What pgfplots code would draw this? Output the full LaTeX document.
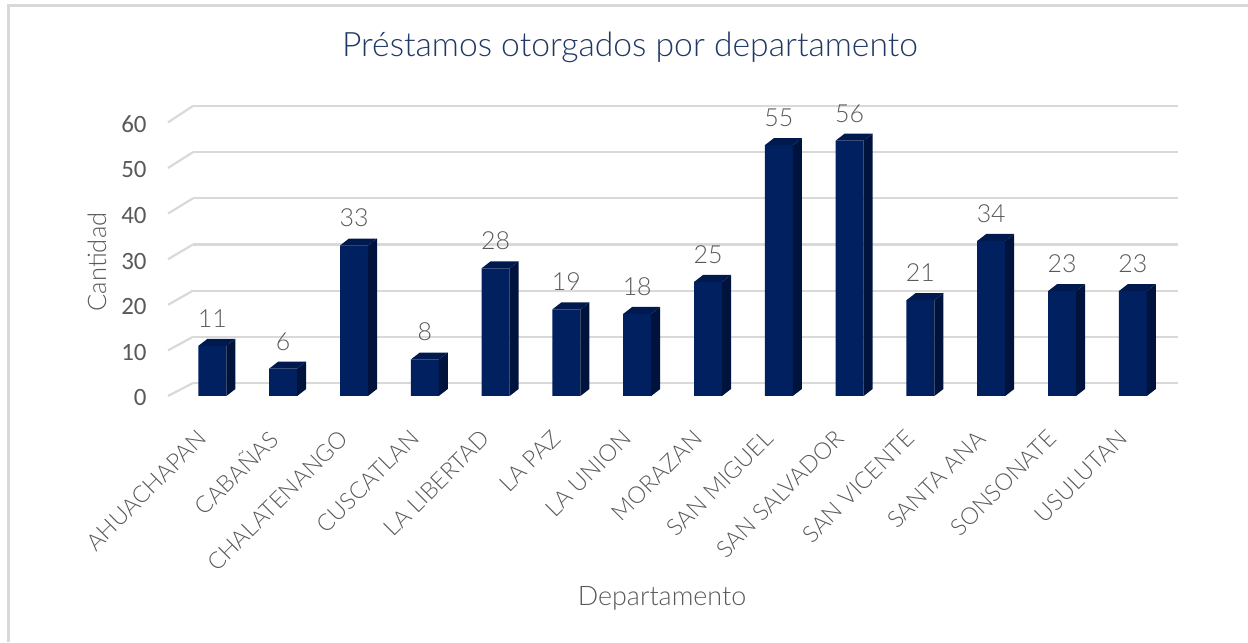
\documentclass[border=0pt]{standalone}
\usepackage{pgfplots}
\pgfplotsset{compat=1.18}
\usepackage{pgfplotstable}
\usepackage{fontspec}
\setmainfont{Carlito}
\newfontfamily\lightfont{Lato Light}

\definecolor{barfront}{HTML}{002060}
\definecolor{barside}{HTML}{00133D}
\definecolor{bartop}{HTML}{001A4F}
\definecolor{gridgray}{HTML}{D9D9D9}
\definecolor{labelgray}{HTML}{595959}
\definecolor{titleblue}{HTML}{203864}

% side and top faces of a column, drawn at the top-centre of its front face
\pgfdeclareplotmark{bar3d}{%
  \pgfmathsetlengthmacro\hh{\ry*2.28bp}%
  \pgfsetfillcolor{barside}%
  \pgfpathmoveto{\pgfpoint{7bp}{0pt}}%
  \pgfpathlineto{\pgfpoint{11.5bp}{3.5bp}}%
  \pgfpathlineto{\pgfpoint{11.5bp}{3.5bp-\hh}}%
  \pgfpathlineto{\pgfpoint{7bp}{-\hh}}%
  \pgfpathclose
  \pgfusepath{fill}%
  \pgfsetfillcolor{bartop}%
  \pgfpathmoveto{\pgfpoint{-7bp}{0pt}}%
  \pgfpathlineto{\pgfpoint{-2.5bp}{3.5bp}}%
  \pgfpathlineto{\pgfpoint{11.5bp}{3.5bp}}%
  \pgfpathlineto{\pgfpoint{7bp}{0pt}}%
  \pgfpathclose
  \pgfusepath{fill}%
}

\pgfplotstableread{
idx val
0 11
1 6
2 33
3 8
4 28
5 19
6 18
7 25
8 55
9 56
10 21
11 34
12 23
13 23
}\deptos

\begin{document}
\begin{tikzpicture}[x=0.5bp,y=0.5bp]
  % outer frame (left and top edges show)
  \draw[gridgray, line width=1.5bp] (8,0) -- (8,636) -- (1248,636);

  % back wall grid
  \begin{axis}[
      at={(96.5bp,129.5bp)}, anchor=south west,
      x=492.5bp, y=2.3085bp,
      xmin=0, xmax=1, ymin=0, ymax=60,
      axis line style={draw=none},
      xtick=\empty, ytick={0,10,...,60}, yticklabels={},
      major tick length=0pt,
      ymajorgrids, grid style={gridgray, line width=1.1bp},
    ]
  \end{axis}
  % floor/wall diagonals
  \foreach \v in {0,10,...,60}
    \draw[gridgray, line width=1.1bp] (168,{246+4.56*\v}) -- (193,{259+4.617*\v});

  \begin{axis}[
      at={(88.5bp,123bp)}, anchor=south west,
      x=35.4bp, y=2.28bp,
      xmin=-0.5, xmax=13.5, ymin=0, ymax=60,
      clip=false,
      axis line style={draw=none},
      major tick length=0pt,
      ytick={0,10,...,60},
      yticklabel style={font=\fontsize{12.5}{14}\selectfont, text=labelgray,
        inner sep=0pt, xshift=-15bp, yshift=-1bp},
      /pgf/number format/assume math mode=true,
      xtick={0,...,13},
      xticklabels={AHUACHAPAN,CABAÑAS,CHALATENANGO,CUSCATLAN,LA LIBERTAD,LA PAZ,LA UNION,MORAZAN,SAN MIGUEL,SAN SALVADOR,SAN VICENTE,SANTA ANA,SONSONATE,USULUTAN},
      xticklabel style={font=\lightfont\fontsize{11.7}{13}\selectfont, text=labelgray,
        rotate=45, anchor=east, inner sep=0pt, xshift=-17bp, yshift=-10bp},
    ]
    \addplot[ybar, bar width=14bp, fill=barfront, draw=none,
      nodes near coords,
      every node near coord/.append style={font=\lightfont\fontsize{12.5}{14}\selectfont,
        text=labelgray, inner sep=0pt, yshift=9bp}]
      table[x=idx, y=val] {\deptos};
    \addplot[scatter, only marks, mark=bar3d,
      scatter/@pre marker code/.code={}, scatter/@post marker code/.code={},
      visualization depends on={rawy \as \ry}]
      table[x=idx, y=val] {\deptos};
  \end{axis}

  \node[text=titleblue, font=\lightfont\fontsize{16.9}{20}\selectfont] at (630,595) {Préstamos otorgados por departamento};
  \node[text=labelgray, rotate=90, font=\lightfont\fontsize{12.8}{15}\selectfont] at (97,380) {Cantidad};
  \node[text=labelgray, font=\lightfont\fontsize{13.5}{16}\selectfont] at (662,44) {Departamento};

  \pgfresetboundingbox
  \useasboundingbox (0,0) rectangle (1248,642);
\end{tikzpicture}
\end{document}
